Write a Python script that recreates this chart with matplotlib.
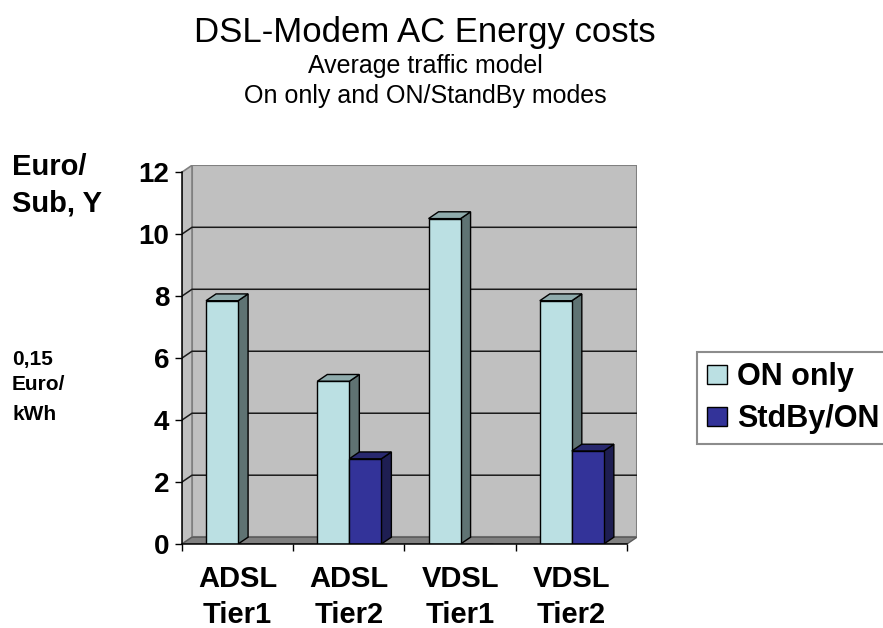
import matplotlib
matplotlib.use('Agg')
import matplotlib.pyplot as plt
from matplotlib.patches import Polygon, Patch

# Energy costs per subscriber and year, 0,15 Euro/kWh
categories = ['ADSL\nTier1', 'ADSL\nTier2', 'VDSL\nTier1', 'VDSL\nTier2']
on_only = [7.85, 5.25, 10.5, 7.85]
standby_on = [0, 2.75, 0, 3.0]
y_ticks = [0, 2, 4, 6, 8, 10, 12]

plt.rcParams['font.family'] = ['Liberation Sans', 'DejaVu Sans']

fig = plt.figure(figsize=(8.83, 6.28), dpi=100)
ax = fig.add_axes([182 / 883, 84 / 628, 455 / 883, 379 / 628])
ax.set_xlim(0, 4.09)
ax.set_ylim(0, 12.23)
ax.patch.set_visible(False)

n = len(categories)
ytop = max(y_ticks)
dx, dy = 0.09, 0.22  # depth of the 3d box in data units

# back wall, side wall, floor
ax.add_patch(Polygon([(dx, dy), (n + dx, dy), (n + dx, ytop + dy), (dx, ytop + dy)],
                     closed=True, fc='#c0c0c0', ec='#808080', lw=1.5, zorder=0))
ax.add_patch(Polygon([(0, 0), (dx, dy), (dx, ytop + dy), (0, ytop)],
                     closed=True, fc='#c0c0c0', ec='#808080', lw=1.2, zorder=0))
ax.add_patch(Polygon([(0, 0), (n, 0), (n + dx, dy), (dx, dy)],
                     closed=True, fc='#808080', ec='#5a5a5a', lw=1, zorder=0.5))

# gridlines running over side wall and back wall
for y in y_ticks[1:-1]:
    ax.plot([0, dx, n + dx], [y, y + dy, y + dy], color='#1a1a1a', lw=1.1, zorder=1)

bar_w = 0.288
gap = 0.216


def draw_series(offset, values, front, side, top, z):
    xs = [i + offset for i in range(n)]
    ax.bar(xs, values, width=bar_w, align='edge', color=front,
           edgecolor='black', linewidth=1, zorder=z + 1)
    for x, h in zip(xs, values):
        if h <= 0:
            continue
        ax.add_patch(Polygon([(x + bar_w, 0), (x + bar_w + dx, dy),
                              (x + bar_w + dx, h + dy), (x + bar_w, h)],
                             closed=True, fc=side, ec='black', lw=1, zorder=z))
        ax.add_patch(Polygon([(x, h), (x + dx, h + dy),
                              (x + bar_w + dx, h + dy), (x + bar_w, h)],
                             closed=True, fc=top, ec='black', lw=1, zorder=z))


draw_series(gap, on_only, '#bbe0e3', '#5f7373', '#8fabac', 2)
draw_series(gap + bar_w, standby_on, '#333399', '#1e1e52', '#28286e', 4)

# axes
for s in ['top', 'right']:
    ax.spines[s].set_visible(False)
ax.spines['left'].set_bounds(0, ytop)
ax.spines['bottom'].set_bounds(0, n)
for s in ['left', 'bottom']:
    ax.spines[s].set_linewidth(1.1)
    ax.spines[s].set_zorder(6)

ax.set_yticks(y_ticks)
ax.set_yticklabels([str(v) for v in y_ticks], fontsize=20, fontweight='bold')
ax.tick_params(axis='y', length=5, width=1, pad=4)

ax.set_xticks(range(n + 1))
ax.set_xticklabels([''] * (n + 1))
ax.set_xticks([i + 0.5 for i in range(n)], minor=True)
ax.set_xticklabels(categories, minor=True, fontsize=21, fontweight='bold',
                   linespacing=1.35)
ax.tick_params(axis='x', which='major', length=5, width=1)
ax.tick_params(axis='x', which='minor', length=0, pad=15)

# titles
fig.text(425 / 883, 1 - 42 / 628, 'DSL-Modem AC Energy costs', fontsize=25,
         ha='center', va='baseline')
fig.text(425 / 883, 1 - 73 / 628, 'Average traffic model', fontsize=18,
         ha='center', va='baseline')
fig.text(425 / 883, 1 - 103 / 628, 'On only and ON/StandBy modes', fontsize=18,
         ha='center', va='baseline')

# unit labels on the left
fig.text(12 / 883, 1 - 175 / 628, 'Euro/', fontsize=21, fontweight='bold', va='baseline')
fig.text(12 / 883, 1 - 212 / 628, 'Sub, Y', fontsize=21, fontweight='bold', va='baseline')
fig.text(12 / 883, 1 - 365 / 628, '0,15', fontsize=15, fontweight='bold', va='baseline')
fig.text(12 / 883, 1 - 390 / 628, 'Euro/', fontsize=15, fontweight='bold', va='baseline')
fig.text(12 / 883, 1 - 420 / 628, 'kWh', fontsize=15, fontweight='bold', va='baseline')

handles = [Patch(fc='#bbe0e3', ec='black', lw=1, label='ON only'),
           Patch(fc='#333399', ec='black', lw=1, label='StdBy/ON')]
leg = fig.legend(handles=handles, loc='upper left', bbox_to_anchor=(697 / 883, 1 - 352 / 628),
                 prop={'size': 22, 'weight': 'bold'}, frameon=True, fancybox=False,
                 handlelength=0.65, handleheight=0.6, handletextpad=0.33,
                 borderpad=0.33, labelspacing=0.4, borderaxespad=0)
leg.get_frame().set_edgecolor('#707070')
leg.get_frame().set_linewidth(1.5)

fig.savefig('out.png', dpi=100)
